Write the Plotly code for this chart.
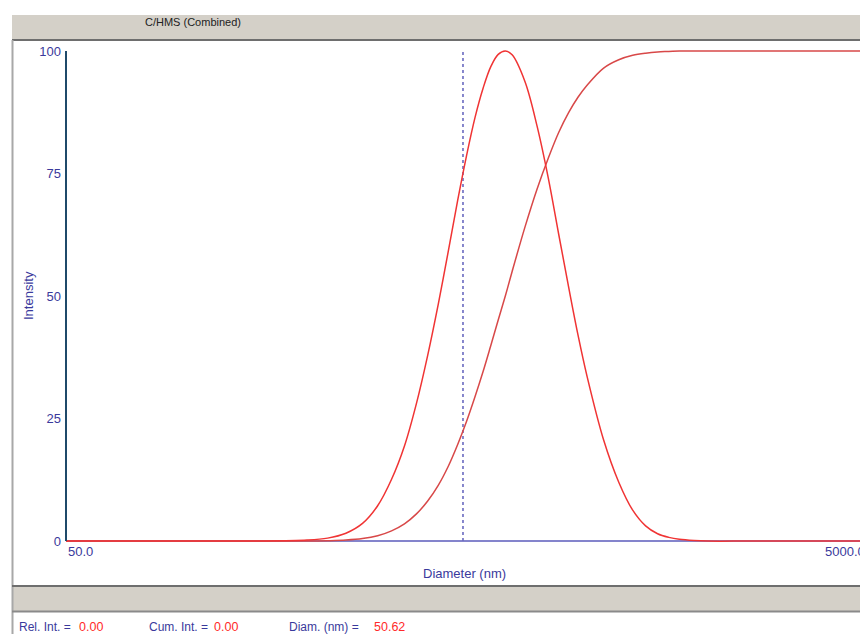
import math
import plotly.graph_objects as go

# ---------------- data ----------------
diameter_nm = [50, 100, 150, 200, 225, 250, 275, 300, 325, 350, 375, 400, 425, 450, 475,
               500, 525, 550, 575, 600, 625, 650, 700, 750, 800, 850, 900, 950, 1000,
               1100, 1200, 1300, 1400, 1500, 1600, 1700, 1850, 2000, 2500, 3000, 4000, 5000]
rel_intensity = [0, 0, 0, 0.2, 0.6, 1.6, 3.6, 7.2, 12.6, 19.4, 28.1, 37.9, 48.3, 59.0, 69.4,
                 78.6, 86.4, 92.4, 96.8, 99.3, 100, 99.2, 93.7, 84.7, 74.1, 62.5, 51.7, 41.9, 33.6,
                 20.6, 12.0, 6.3, 3.1, 1.5, 0.75, 0.35, 0.1, 0, 0, 0, 0, 0]
cum_intensity = [0, 0, 0, 0, 0.07, 0.2, 0.5, 1.09, 2.09, 3.51, 5.54, 8.18, 11.37, 15.22, 19.66,
                 24.39, 29.44, 34.59, 39.9, 45.1, 50.0, 55.0, 64.1, 71.8, 78.1, 83.4, 87.45, 90.6, 93.0,
                 96.5, 98.2, 99.1, 99.55, 99.8, 99.9, 100, 100, 100, 100, 100, 100, 100]
cursor_diameter = 490
y_ticks = [0, 25, 50, 75, 100]
x_axis_min, x_axis_max = 50, 5000
x_tick_labels = ["50.0", "5000.0"]
status_labels = ["Rel. Int. = ", "Cum. Int. = ", "Diam. (nm) = "]
status_values = ["0.00", "0.00", "50.62"]
title_text = "C/HMS (Combined)"

# ---------------- layout geometry ----------------
W, H = 860, 634
ML, MR, MT, MB = 66, 0, 48, 90
PW, PH = W - ML - MR, H - MT - MB
# x axis: 50 at px 66, 5000 at px 867 (slightly beyond the window)
px_per_decade = (867 - 66) / math.log10(x_axis_max / x_axis_min)
xmin = math.log10(x_axis_min)
xmax = xmin + PW / px_per_decade


def px(x):
    return (x - ML) / PW


def py(y):
    return (MT + PH - y) / PH


NAVY = "#3a3a9c"
RED = "#f03434"
FONT = "Liberation Sans, Arial, sans-serif"
GRAY = "#d4d0c8"

fig = go.Figure()
fig.add_trace(go.Scatter(x=[cursor_diameter, cursor_diameter], y=[0, 100], mode="lines",
                         line=dict(color="#6a6ac0", width=1.6, dash="dot"),
                         hoverinfo="skip", showlegend=False))
fig.add_trace(go.Scatter(x=diameter_nm, y=cum_intensity, mode="lines",
                         line=dict(color="#d84848", width=1.5, shape="spline", smoothing=1.0),
                         name="Cumulative", showlegend=False))
fig.add_trace(go.Scatter(x=diameter_nm, y=rel_intensity, mode="lines",
                         line=dict(color=RED, width=1.5, shape="spline", smoothing=1.0),
                         name="Relative", showlegend=False))

shapes = [
    # title bar
    dict(type="rect", xref="paper", yref="paper", x0=px(12), x1=px(862), y0=py(40), y1=py(15),
         fillcolor=GRAY, line=dict(width=0), layer="below"),
    dict(type="line", xref="paper", yref="paper", x0=px(12), x1=px(862), y0=py(40), y1=py(40),
         line=dict(color="#6e6e6e", width=2)),
    # left frame line
    dict(type="line", xref="paper", yref="paper", x0=px(12.5), x1=px(12.5), y0=py(634), y1=py(40),
         line=dict(color="#a8a8a8", width=2)),
    # lower gray bar
    dict(type="rect", xref="paper", yref="paper", x0=px(12), x1=px(862), y0=py(612), y1=py(586),
         fillcolor=GRAY, line=dict(width=0), layer="below"),
    dict(type="line", xref="paper", yref="paper", x0=px(12), x1=px(862), y0=py(586), y1=py(586),
         line=dict(color="#6e6e6e", width=2)),
    dict(type="line", xref="paper", yref="paper", x0=px(12), x1=px(862), y0=py(611.5), y1=py(611.5),
         line=dict(color="#8a8a8a", width=2)),
    # y axis line
    dict(type="line", xref="paper", yref="y", x0=0, x1=0, y0=0, y1=100,
         line=dict(color="#1f4a6a", width=2)),
]

annotations = [
    dict(text=title_text, xref="paper", yref="paper", x=px(193), y=py(22.5),
         xanchor="center", yanchor="middle", showarrow=False,
         font=dict(family=FONT, size=11, color="#222222")),
    dict(text="Intensity", xref="paper", yref="paper", x=px(28), y=py(296), textangle=-90,
         xanchor="center", yanchor="middle", showarrow=False,
         font=dict(family=FONT, size=13, color=NAVY)),
    dict(text="Diameter (nm)", xref="paper", yref="paper", x=px(464), y=py(573),
         xanchor="center", yanchor="middle", showarrow=False,
         font=dict(family=FONT, size=13, color=NAVY)),
]
# x tick labels: first left-aligned at axis start, last right-aligned at axis end
x_tick_pos = [x_axis_min, x_axis_max]
for i, (v, lab) in enumerate(zip(x_tick_pos, x_tick_labels)):
    xp = (math.log10(v) - xmin) / (xmax - xmin)
    annotations.append(dict(text=lab, xref="paper", yref="paper", x=xp, y=py(551.5),
                            xanchor="left" if i == 0 else "right", yanchor="middle",
                            showarrow=False, font=dict(family=FONT, size=13, color=NAVY)))
# status bar
label_x = [17, 147, 287]
value_x = [77, 212, 372]
for lx, vx, lab, val in zip(label_x, value_x, status_labels, status_values):
    annotations.append(dict(text=lab, xref="paper", yref="paper", x=px(lx), y=py(627),
                            xanchor="left", yanchor="middle", showarrow=False,
                            font=dict(family=FONT, size=12, color=NAVY)))
    annotations.append(dict(text=val, xref="paper", yref="paper", x=px(vx), y=py(627),
                            xanchor="left", yanchor="middle", showarrow=False,
                            font=dict(family=FONT, size=12.5, color="#ff2a2a")))

fig.update_layout(
    width=W, height=H,
    margin=dict(l=ML, r=MR, t=MT, b=MB, autoexpand=False),
    paper_bgcolor="white", plot_bgcolor="white",
    shapes=shapes, annotations=annotations,
    xaxis=dict(type="log", range=[xmin, xmax], showgrid=False, zeroline=False,
               showline=False, showticklabels=False, ticks=""),
    yaxis=dict(range=[-0.6, 100.6], tickvals=y_ticks, ticktext=[str(v) for v in y_ticks],
               showgrid=False, showline=False, ticks="", zeroline=True,
               zerolinecolor="#8484cc", zerolinewidth=2, ticklabelstandoff=4,
               tickfont=dict(family=FONT, size=13, color=NAVY)),
    hovermode=False,
)

fig.write_html("out.html", config={"displayModeBar": False})
